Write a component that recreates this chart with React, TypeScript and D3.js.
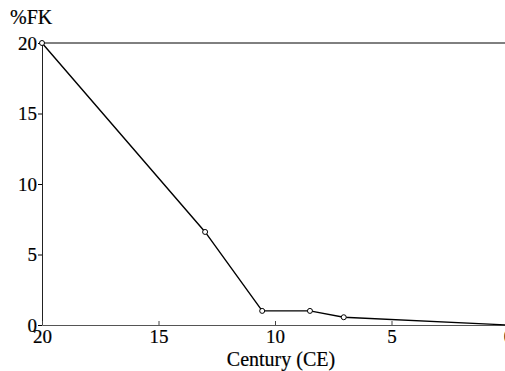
import React, { useEffect, useRef } from "react";
import * as d3 from "d3";

// century (CE) vs %FK
const centuries = [20, 13, 10.55, 8.5, 7.05, 0];
const pctFK = [20, 6.6, 1.0, 1.0, 0.55, 0];
const xTicks = [20, 15, 10, 5, 0];
const yTicks = [0, 5, 10, 15, 20];

const App = () => {
  const ref = useRef<SVGSVGElement>(null);

  useEffect(() => {
    const width = 505;
    const font = "'Liberation Serif', 'Times New Roman', serif";

    const svg = d3.select(ref.current);
    svg.selectAll("*").remove();

    const x = d3.scaleLinear().domain([20, 0]).range([42, 508]);
    const y = d3.scaleLinear().domain([0, 20]).range([325, 43]);

    const data = centuries.map((c, i) => ({ c, v: pctFK[i] }));

    // top frame line at 20
    svg
      .append("line")
      .attr("x1", x(20))
      .attr("x2", width)
      .attr("y1", y(20))
      .attr("y2", y(20))
      .attr("stroke", "#000")
      .attr("stroke-width", 1);

    // y axis
    const gy = svg
      .append("g")
      .attr("transform", `translate(${x(20)},0)`)
      .call(d3.axisLeft(y).tickValues(yTicks).tickSize(4).tickPadding(1).tickSizeOuter(0));
    gy.select(".domain").attr("stroke", "#222");
    gy.selectAll("text")
      .style("font-family", font)
      .style("font-size", "19px")
      .attr("fill", "#000")
      .attr("stroke", "#000")
      .attr("stroke-width", 0.2);

    // x axis, ticks pointing inward
    const gx = svg
      .append("g")
      .attr("transform", `translate(0,${y(0)})`)
      .call(d3.axisBottom(x).tickValues(xTicks).tickSize(-4).tickSizeOuter(0).tickFormat(d3.format("d")));
    gx.select(".domain").attr("stroke", "#555");
    gx.selectAll("line").attr("stroke", "#444");
    gx.selectAll("text")
      .style("font-family", font)
      .style("font-size", "19px")
      .attr("fill", "#000")
      .attr("stroke", "#000")
      .attr("stroke-width", 0.2)
      .attr("y", 5);

    // axis titles
    svg
      .append("text")
      .attr("x", 10)
      .attr("y", 24)
      .style("font-family", font)
      .style("font-size", "20px")
      .attr("stroke", "#000")
      .attr("stroke-width", 0.2)
      .text("%FK");

    svg
      .append("text")
      .attr("x", 281)
      .attr("y", 366)
      .attr("text-anchor", "middle")
      .style("font-family", font)
      .style("font-size", "20px")
      .attr("stroke", "#000")
      .attr("stroke-width", 0.2)
      .text("Century (CE)");

    const line = d3
      .line<{ c: number; v: number }>()
      .x((d) => x(d.c))
      .y((d) => y(d.v));

    svg
      .append("path")
      .datum(data)
      .attr("fill", "none")
      .attr("stroke", "#000")
      .attr("stroke-width", 1.4)
      .attr("d", line);

    svg
      .selectAll(".pt")
      .data(data.slice(0, data.length - 1))
      .join("circle")
      .attr("class", "pt")
      .attr("cx", (d) => x(d.c))
      .attr("cy", (d) => y(d.v))
      .attr("r", 2.5)
      .attr("fill", "#fff")
      .attr("stroke", "#000")
      .attr("stroke-width", 1);
  }, []);

  return (
    <svg
      ref={ref}
      width={505}
      height={371}
      style={{ position: "absolute", left: 0, top: 0, background: "#fff" }}
    />
  );
};

export default App;
